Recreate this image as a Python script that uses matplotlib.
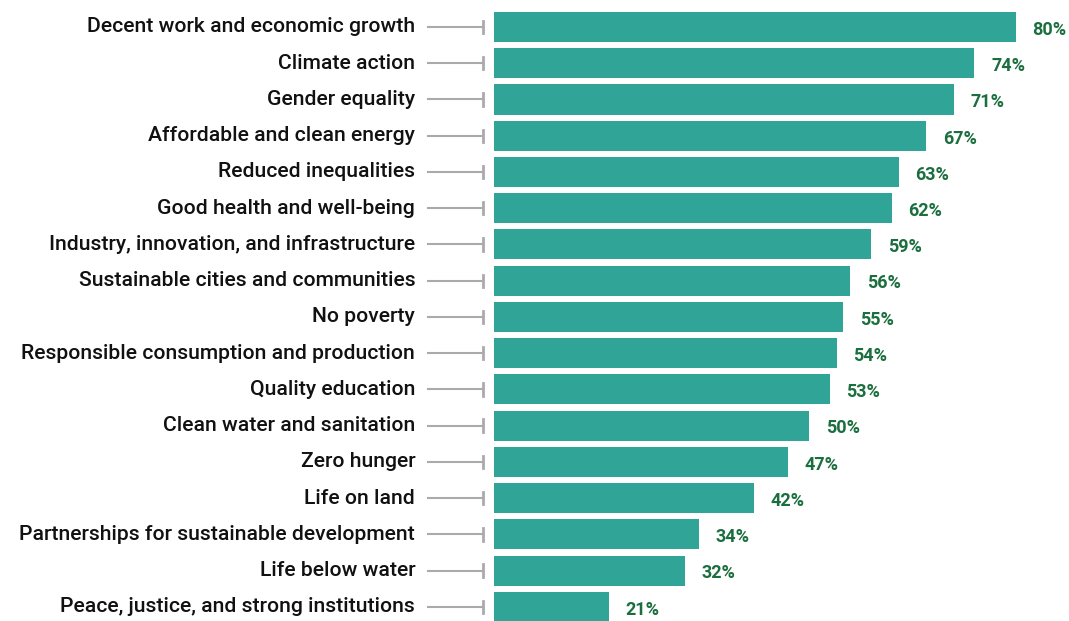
import matplotlib
matplotlib.use("Agg")
import matplotlib.pyplot as plt

goals = [
    "Decent work and economic growth",
    "Climate action",
    "Gender equality",
    "Affordable and clean energy",
    "Reduced inequalities",
    "Good health and well-being",
    "Industry, innovation, and infrastructure",
    "Sustainable cities and communities",
    "No poverty",
    "Responsible consumption and production",
    "Quality education",
    "Clean water and sanitation",
    "Zero hunger",
    "Life on land",
    "Partnerships for sustainable development",
    "Life below water",
    "Peace, justice, and strong institutions",
]
shares = [80, 74, 71, 67, 63, 62, 59, 56, 55, 54, 53, 50, 47, 42, 34, 32, 21]

bar_color = "#2fa497"
pct_color = "#1b6e3e"
line_color = "#aaaaaa"

fig = plt.figure(figsize=(10.69, 6.21), dpi=100)
ax = fig.add_axes([494 / 1069, 0, 575 / 1069, 1])

y = list(range(len(goals)))
ax.barh(y, shares, height=0.83, color=bar_color, left=0)
ax.set_xlim(4.35, 87.7)
ax.set_ylim(16.39, -0.745)
ax.axis("off")

tr = ax.get_yaxis_transform()
for i, (g, v) in enumerate(zip(goals, shares)):
    # category label, then the grey leader line with its end cap
    ax.text(-0.137, i, g, transform=tr, ha="right", va="center",
            fontsize=15.2, fontfamily="Roboto", fontweight="medium", color="#111111")
    ax.plot([-0.1148, -0.0191], [i, i], transform=tr, color=line_color,
            lw=1.5, clip_on=False)
    ax.plot([-0.0191, -0.0191], [i - 0.17, i + 0.17], transform=tr,
            color=line_color, lw=2, clip_on=False)
    ax.annotate(f"{v}%", (v, i), xytext=(12, -2), textcoords="offset points",
                ha="left", va="center", fontsize=13, fontfamily="Roboto",
                fontweight="bold", color=pct_color)

fig.savefig("out.png", dpi=100)
